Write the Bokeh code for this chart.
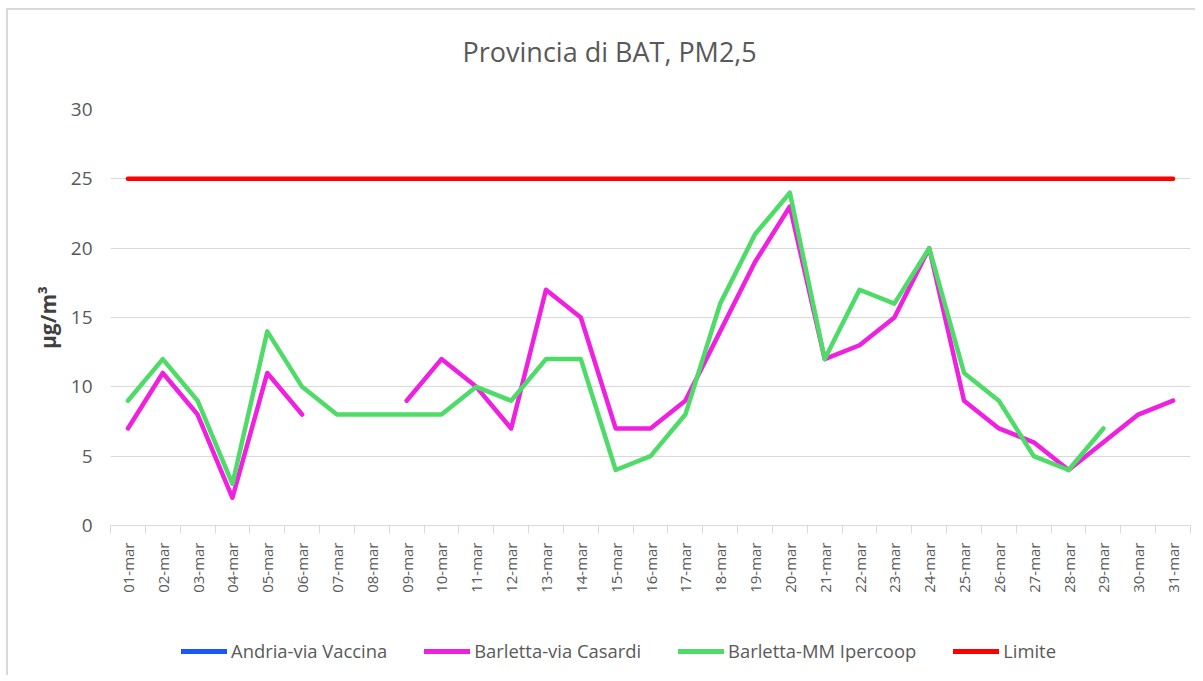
import math
from bokeh.plotting import figure
from bokeh.layouts import column
from bokeh.models import Range1d, FixedTicker, Legend, LegendItem, Title
from bokeh.embed import file_html
from bokeh.resources import INLINE

NaN = float("nan")

days = ["01-mar", "02-mar", "03-mar", "04-mar", "05-mar", "06-mar", "07-mar", "08-mar",
        "09-mar", "10-mar", "11-mar", "12-mar", "13-mar", "14-mar", "15-mar", "16-mar",
        "17-mar", "18-mar", "19-mar", "20-mar", "21-mar", "22-mar", "23-mar", "24-mar",
        "25-mar", "26-mar", "27-mar", "28-mar", "29-mar", "30-mar", "31-mar"]

andria_vaccina = [NaN, NaN, NaN, NaN, NaN, NaN, NaN, NaN, NaN, NaN, NaN, NaN, NaN, NaN, NaN, NaN,
                  NaN, NaN, NaN, NaN, NaN, NaN, NaN, NaN, NaN, NaN, NaN, NaN, NaN, NaN, NaN]
barletta_casardi = [7, 11, 8, 2, 11, 8, NaN, NaN, 9, 12, 10, 7, 17, 15, 7, 7,
                    9, 14, 19, 23, 12, 13, 15, 20, 9, 7, 6, 4, 6, 8, 9]
barletta_ipercoop = [9, 12, 9, 3, 14, 10, 8, 8, 8, 8, 10, 9, 12, 12, 4, 5,
                     8, 16, 21, 24, 12, 17, 16, 20, 11, 9, 5, 4, 7, NaN, NaN]
limite = [25, 25, 25, 25, 25, 25, 25, 25, 25, 25, 25, 25, 25, 25, 25, 25,
          25, 25, 25, 25, 25, 25, 25, 25, 25, 25, 25, 25, 25, 25, 25]

series_names = ["Andria-via Vaccina", "Barletta-via Casardi", "Barletta-MM Ipercoop", "Limite"]
y_ticks = [0, 5, 10, 15, 20, 25, 30]
title_text = "Provincia di BAT, PM2,5"
y_label = "μg/m³"

x = list(range(1, len(days) + 1))
FONT = "Open Sans"
GRAY = "#595959"
GRID = "#d9d9d9"
colors = ["#1a56ff", "#f020e0", "#4fdb68", "#ff0000"]
data = [andria_vaccina, barletta_casardi, barletta_ipercoop, limite]

p = figure(width=1187, height=600, output_backend="svg", toolbar_location=None,
           x_range=Range1d(0.5, len(days) + 0.5), y_range=Range1d(0, 30),
           min_border_left=102, min_border_right=5, min_border_top=99, min_border_bottom=85,
           title_location=None)
p.outline_line_color = None
p.background_fill_color = "white"
p.border_fill_color = "white"

# title (spacer first = closest to the frame, then the visible title)
spacer = Title(text=" ", text_font_size="2px", standoff=36)
main_title = Title(text=title_text, text_font=FONT, text_font_size="27px",
                   text_font_style="normal", text_color=GRAY, align="left",
                   offset=352, standoff=0)
p.add_layout(spacer, "above")
p.add_layout(main_title, "above")

# x axis
p.xaxis.ticker = FixedTicker(ticks=x, minor_ticks=[i - 0.5 for i in x] + [len(x) + 0.5])
p.xaxis.major_label_overrides = {i: d for i, d in zip(x, days)}
p.xaxis.major_label_orientation = math.pi / 2
p.xaxis.major_tick_line_color = None
p.xaxis.major_tick_out = 0
p.xaxis.major_tick_in = 0
p.xaxis.minor_tick_line_color = GRID
p.xaxis.minor_tick_out = 8
p.xaxis.minor_tick_in = 0
p.xaxis.axis_line_color = GRID
p.xaxis.major_label_standoff = 9
p.xaxis.major_label_text_font = FONT
p.xaxis.major_label_text_font_size = "15px"
p.xaxis.major_label_text_color = GRAY
p.xgrid.grid_line_color = None

# y axis
p.yaxis.ticker = FixedTicker(ticks=y_ticks)
p.yaxis.axis_line_color = None
p.yaxis.major_tick_line_color = None
p.yaxis.minor_tick_line_color = None
p.yaxis.major_tick_out = 0
p.yaxis.major_label_standoff = 18
p.yaxis.major_label_text_font = FONT
p.yaxis.major_label_text_font_size = "19px"
p.yaxis.major_label_text_color = GRAY
p.yaxis.axis_label = y_label
p.yaxis.axis_label_text_font = FONT
p.yaxis.axis_label_text_font_size = "21px"
p.yaxis.axis_label_text_font_style = "bold"
p.yaxis.axis_label_text_color = "#404040"
p.yaxis.axis_label_standoff = 6
p.ygrid.grid_line_color = GRID
p.ygrid.grid_line_width = 1

for vals, col in zip(data, colors):
    p.line(x, vals, line_color=col, line_width=4.5, line_join="round", line_cap="round")

# legend strip (same series, drawn outside its own view so only the legend shows)
q = figure(width=1187, height=65, output_backend="svg", toolbar_location=None,
           x_range=Range1d(100, 101), y_range=Range1d(100, 101),
           x_axis_location=None, y_axis_location=None, min_border=0,
           min_border_left=0, min_border_right=0, min_border_top=0, min_border_bottom=0)
q.grid.visible = False
q.outline_line_color = None
q.background_fill_color = "white"
q.border_fill_color = "white"
leg_renderers = []
for vals, col in zip(data, colors):
    leg_renderers.append(q.line(x, vals, line_color=col, line_width=5, line_cap="round"))

legend = Legend(items=[LegendItem(label=n, renderers=[r]) for n, r in zip(series_names, leg_renderers)],
                orientation="horizontal", location=(71, 12))
legend.glyph_width = 46
legend.glyph_height = 20
legend.label_height = 20
legend.label_standoff = 4
legend.spacing = 37
legend.padding = 0
legend.margin = 0
legend.border_line_color = None
legend.background_fill_alpha = 0
legend.label_text_font = FONT
legend.label_text_font_size = "18.4px"
legend.label_text_color = GRAY
q.add_layout(legend)

layout = column(p, q, spacing=0,
                styles={"border-left": "2px solid #d9d9d9", "border-top": "2px solid #d9d9d9",
                        "margin-left": "6px", "margin-top": "8px"})

open("out.html", "w").write(file_html(layout, INLINE))
